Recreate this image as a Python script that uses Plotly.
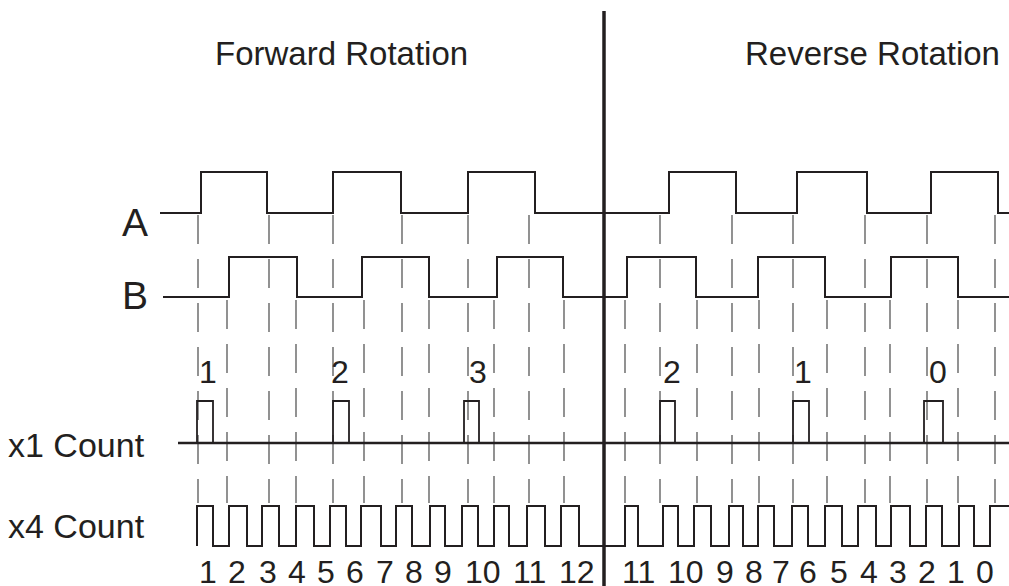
import plotly.graph_objects as go

# ---------------- data (time axis in drawing units) ----------------
t_start, t_end = 160, 1009
t_center = 604

# Channel A / B edge times (alternating rise/fall, starting low)
A_edges = [201, 267, 333, 401, 468, 535, 669, 736, 797, 867, 931, 998]
A_start = 160
B_edges = [229, 297, 362, 429, 497, 563, 627, 696, 758, 825, 891, 958]
B_start = 163

# dashed edge markers: (time, channel)
mark_times = [198, 227, 269, 296, 333, 364, 402, 429, 468, 494, 529, 564,
              625, 660, 697, 732, 759, 793, 827, 865, 890, 927, 958, 995]
mark_chan = ["A", "B", "A", "B", "A", "B", "A", "B", "A", "B", "A", "B",
             "B", "A", "B", "A", "B", "A", "B", "A", "B", "A", "B", "A"]

# x1 count pulses
x1_rise = [197, 333, 464, 660, 793, 924]
x1_fall = [213, 349, 479, 675, 809, 943]
x1_labels = ["1", "2", "3", "2", "1", "0"]
x1_label_t = [208, 340, 478, 672, 803, 938]
x1_start = 178

# x4 count pulses
x4_rise = [197, 229, 262, 296, 330, 361, 396, 430, 462, 494, 527, 561,
           625, 663, 694, 729, 758, 792, 825, 858, 891, 926, 959, 990]
x4_fall = [213, 247, 279, 314, 346, 381, 412, 445, 478, 509, 545, 579,
           638, 678, 711, 743, 774, 808, 842, 876, 910, 942, 974]
x4_labels = ["1", "2", "3", "4", "5", "6", "7", "8", "9", "10", "11", "12",
             "11", "10", "9", "8", "7", "6", "5", "4", "3", "2", "1", "0"]
x4_label_t = [208, 237, 268, 297, 326, 355, 385, 414, 443, 483, 529, 577,
              638, 686, 725, 754, 781, 808, 839, 869, 898, 927, 956, 985]

row_names = ["A", "B", "x1 Count", "x4 Count"]
titles = ["Forward Rotation", "Reverse Rotation"]

# ---------------- layout constants ----------------
W, H = 1009, 586
ROW = {"A": (213, 172), "B": (297, 257), "x1": (443, 401), "x4": (546, 506)}
MARK_TOP = {"A": 215, "B": 300}
MARK_BOTTOM = 503
INK = "#231f20"
FONT = "Liberation Sans, Arial, Helvetica, sans-serif"


def level_y(row, lvl):
    lo, hi = ROW[row]
    return lo + (hi - lo) * lvl


def step_trace(row, start, edges, end):
    xs, ys = [start], [level_y(row, 0)]
    lvl = 0
    for e in edges:
        xs += [e, e]
        ys += [level_y(row, lvl), level_y(row, 1 - lvl)]
        lvl = 1 - lvl
    xs.append(end)
    ys.append(level_y(row, lvl))
    return xs, ys


fig = go.Figure()

# dashed markers
for t, ch in zip(mark_times, mark_chan):
    fig.add_trace(go.Scatter(x=[t, t], y=[MARK_TOP[ch], MARK_BOTTOM], mode="lines",
                             line=dict(color="#4a4a4a", width=1.2, dash="29px,15px"),
                             hoverinfo="skip", showlegend=False))

# A and B
for row, st, ed in [("A", A_start, A_edges), ("B", B_start, B_edges)]:
    xs, ys = step_trace(row, st, ed, t_end)
    fig.add_trace(go.Scatter(x=xs, y=ys, mode="lines",
                             line=dict(color=INK, width=2), showlegend=False))

# x1 baseline
fig.add_trace(go.Scatter(x=[x1_start, t_end], y=[level_y("x1", 0)] * 2, mode="lines",
                         line=dict(color=INK, width=2.6), showlegend=False))
# x1 pulses
px, py = [], []
for r, f in zip(x1_rise, x1_fall):
    px += [r, r, f, f, None]
    py += [level_y("x1", 0), level_y("x1", 1), level_y("x1", 1), level_y("x1", 0), None]
fig.add_trace(go.Scatter(x=px, y=py, mode="lines",
                         line=dict(color=INK, width=1.8), showlegend=False))

# x4 pulses
edges4 = []
for i, r in enumerate(x4_rise):
    edges4.append(r)
    if i < len(x4_fall):
        edges4.append(x4_fall[i])
xs, ys = [], []
lvl = 0
for e in edges4:
    xs += [e, e]
    ys += [level_y("x4", lvl), level_y("x4", 1 - lvl)]
    lvl = 1 - lvl
xs.append(t_end)
ys.append(level_y("x4", lvl))
fig.add_trace(go.Scatter(x=xs, y=ys, mode="lines",
                         line=dict(color=INK, width=2), showlegend=False))

# center divider
fig.add_trace(go.Scatter(x=[t_center, t_center], y=[11, H], mode="lines",
                         line=dict(color=INK, width=3.5), showlegend=False))

ann = []
# titles
for txt, cx in zip(titles, [341, 872]):
    ann.append(dict(x=cx, y=53, text=txt, font=dict(size=33)))
# row labels
ann.append(dict(x=135, y=222, text=row_names[0], font=dict(size=39)))
ann.append(dict(x=135, y=295, text=row_names[1], font=dict(size=39)))
ann.append(dict(x=147, y=445, text=row_names[2], font=dict(size=34), xanchor="right"))
ann.append(dict(x=147, y=526, text=row_names[3], font=dict(size=34), xanchor="right"))
# x1 labels
for lab, t in zip(x1_labels, x1_label_t):
    ann.append(dict(x=t, y=372, text=lab, font=dict(size=32)))
# x4 labels
for lab, t in zip(x4_labels, x4_label_t):
    ann.append(dict(x=t, y=572, text=lab, font=dict(size=32)))

for a in ann:
    a.setdefault("xanchor", "center")
    a["yanchor"] = "middle"
    a["showarrow"] = False
    a["xref"] = "x"
    a["yref"] = "y"
    a["font"].update(family=FONT, color=INK)
    fig.add_annotation(**a)

fig.update_layout(
    width=W, height=H, margin=dict(l=0, r=0, t=0, b=0),
    paper_bgcolor="white", plot_bgcolor="white",
    xaxis=dict(range=[0, W], visible=False, fixedrange=True),
    yaxis=dict(range=[H, 0], visible=False, fixedrange=True),
)

fig.write_html("out.html", config={"displayModeBar": False},
               post_script="document.body.style.margin='0';document.body.style.overflow='hidden';")
